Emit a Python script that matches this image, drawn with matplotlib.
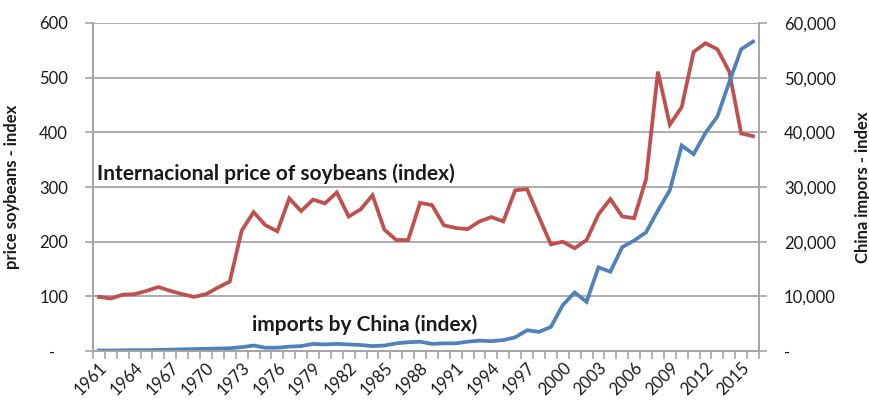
import numpy as np
import matplotlib.pyplot as plt
from matplotlib.ticker import FixedLocator, FuncFormatter

plt.rcParams['font.family'] = ['Lato', 'DejaVu Sans']

# soybean price index and Chinese import index, 1961-2016
years = list(range(1961, 2017))
price = [99, 96, 103, 104, 110, 117, 110, 104, 99, 104,
         116, 127, 220, 254, 230, 219, 279, 256, 277, 270,
         290, 246, 259, 285, 222, 203, 203, 271, 267, 230,
         225, 223, 237, 245, 237, 294, 296, 245, 195, 200,
         188, 203, 250, 278, 246, 243, 314, 511, 414, 446,
         547, 563, 552, 511, 398, 393]
imports = [100, 80, 120, 150, 150, 200, 250, 300, 350, 400,
           450, 500, 700, 1000, 600, 600, 800, 900, 1300, 1200,
           1300, 1200, 1100, 900, 1000, 1400, 1600, 1700, 1300, 1400,
           1400, 1700, 1900, 1800, 2000, 2500, 3800, 3500, 4400, 8400,
           10700, 9000, 15300, 14500, 19000, 20200, 21700, 25700, 29400, 37600,
           36000, 39900, 42900, 49200, 55200, 56600]
label_years = years[::3]

RED = '#C0504D'
BLUE = '#4F81BD'
GRID = '#A6A6A6'
TXT = '#1a1a1a'

fig = plt.figure(figsize=(8.7, 4.05), dpi=100)
ax = fig.add_axes([93 / 870, 1 - 351 / 405, 666 / 870, 328 / 405])
ax2 = ax.twinx()

ax.plot(years, price, color=RED, lw=2.7, solid_joinstyle='miter')
ax2.plot(years, imports, color=BLUE, lw=2.7, solid_joinstyle='miter')

ax.set_xlim(years[0] - 0.5, years[-1] + 0.5)
ax.set_ylim(0, 600)
ax2.set_ylim(0, 60000)

ax.set_yticks(np.arange(0, 601, 100))
ax.yaxis.set_major_formatter(FuncFormatter(lambda v, p: '-   ' if v == 0 else f'{v:.0f}'))
ax2.set_yticks(np.arange(0, 60001, 10000))
ax2.yaxis.set_major_formatter(FuncFormatter(lambda v, p: '-' if v == 0 else f'{v:,.0f}'))

ax.yaxis.grid(True, color=GRID, lw=1.3)
ax.set_axisbelow(True)

# year labels under every third category, tick marks on category boundaries
ax.xaxis.set_major_locator(FixedLocator(label_years))
ax.set_xticklabels([str(y) for y in label_years], rotation=45, ha='right',
                   rotation_mode='anchor')
ax.xaxis.set_minor_locator(FixedLocator(np.arange(years[0] - 0.5, years[-1] + 1, 1)))
ax.tick_params(axis='x', which='major', length=0, pad=6, labelsize=12, labelcolor=TXT)
ax.tick_params(axis='x', which='minor', length=6, width=1.2, color=GRID)
ax.tick_params(axis='y', length=6, width=1.2, color=GRID, pad=12, labelsize=12, labelcolor=TXT)
ax2.tick_params(axis='y', length=6, width=1.2, color=GRID, pad=12, labelsize=12, labelcolor=TXT)

for a in (ax, ax2):
    a.spines['top'].set_visible(False)
    for s in ('left', 'right', 'bottom'):
        a.spines[s].set_color(GRID)
        a.spines[s].set_linewidth(1.3)

ax.set_ylabel('price soybeans - index', fontsize=12, fontweight='bold', color=TXT, labelpad=14)
ax2.set_ylabel('China impors - index', fontsize=12, fontweight='bold', color=TXT, labelpad=14)

ax.text(1960.85, 324, 'Internacional price of soybeans (index)', fontsize=15,
        fontweight='bold', color=TXT, va='center', ha='left')
ax.text(1973.9, 49, 'imports by China (index)', fontsize=15,
        fontweight='bold', color=TXT, va='center', ha='left')

fig.savefig('out.png', dpi=100)
